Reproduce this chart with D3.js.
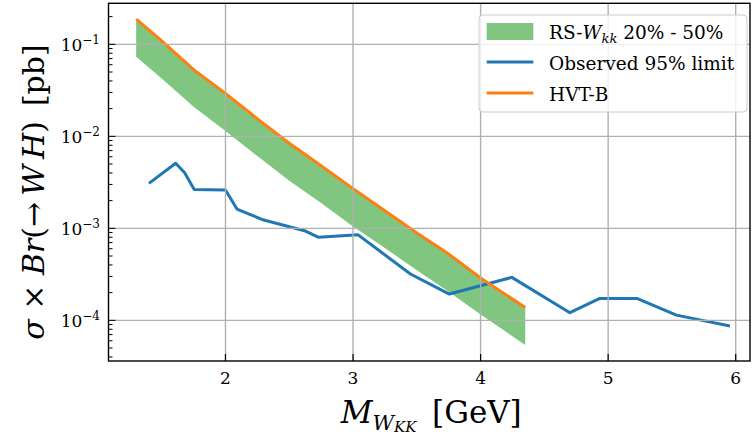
<!DOCTYPE html>
<html><head><meta charset="utf-8">
<script src="https://cdn.jsdelivr.net/npm/d3@7"></script>
<style>body{margin:0;background:#fff} svg{display:block} text{font-family:"DejaVu Serif",serif;fill:#000}</style>
</head><body><svg id="c" width="752" height="437"></svg>
<script>
// ---- data ----
const massBand = [1.3,1.5,1.75,2.0,2.25,2.5,2.75,3.0,3.25,3.5,3.75,4.0,4.35];
const bandHigh = [0.188,0.109,0.053,0.0293,0.0155,0.0084,0.00478,0.0027,0.00155,0.00089,0.000525,0.000288,0.000138];
const bandLow  = [0.0735,0.0425,0.021,0.0114,0.0061,0.0033,0.00188,0.00105,0.00061,0.00035,0.000205,0.000116,0.000054];
const hvtB     = [0.188,0.109,0.053,0.0293,0.0155,0.0084,0.00478,0.0027,0.00155,0.00089,0.000525,0.000288,0.000138];
const massObs  = [1.4,1.61,1.68,1.755,2.0,2.09,2.3,2.62,2.73,3.04,3.45,3.755,4.245,4.7,4.935,5.225,5.535,5.955];
const observed = [0.00308,0.00509,0.00402,0.00265,0.00261,0.00162,0.00123,0.000942,0.000798,0.00085,0.000319,0.000193,0.000293,0.000121,0.000173,0.000173,0.000114,0.0000867];
const xTicks = [2,3,4,5,6];
const yTickExps = [-4,-3,-2,-1];
const legendLabels = ["RS-W_kk 20% - 50%","Observed 95% limit","HVT-B"];

// ---- layout ----
const L=108.5, R=750, T=3.3, B=361;
const svg=d3.select("#c");
const x=d3.scaleLinear().domain([1.083,6.112]).range([L,R]);
const y=d3.scaleLog().domain([Math.pow(10,-4.442),Math.pow(10,-0.554)]).range([B,T]);
const green="#2ca02c", blue="#1f77b4", orange="#ff7f0e";

const defs=svg.append("defs");
defs.append("clipPath").attr("id","clip").append("rect").attr("x",L).attr("y",T).attr("width",R-L).attr("height",B-T);
const plot=svg.append("g").attr("clip-path","url(#clip)");

// band
const bandData=massBand.map((m,i)=>({m,lo:bandLow[i],hi:bandHigh[i]}));
plot.append("path").datum(bandData)
  .attr("d",d3.area().x(d=>x(d.m)).y0(d=>y(d.lo)).y1(d=>y(d.hi)))
  .attr("fill",green).attr("fill-opacity",0.6);

// grid (drawn above the band, below lines, like matplotlib)
const grid=svg.append("g");
xTicks.forEach(t=>grid.append("line").attr("x1",x(t)).attr("x2",x(t)).attr("y1",T).attr("y2",B)
  .attr("stroke","#b0b0b0").attr("stroke-width",1.4));
yTickExps.forEach(e=>grid.append("line").attr("x1",L).attr("x2",R).attr("y1",y(Math.pow(10,e))).attr("y2",y(Math.pow(10,e)))
  .attr("stroke","#b0b0b0").attr("stroke-width",1.4));

// lines
const line=d3.line().x(d=>x(d[0])).y(d=>y(d[1]));
plot.append("path").datum(massObs.map((m,i)=>[m,observed[i]])).attr("d",line)
  .attr("fill","none").attr("stroke",blue).attr("stroke-width",3).attr("stroke-linejoin","round");
plot.append("path").datum(massBand.map((m,i)=>[m,hvtB[i]])).attr("d",line)
  .attr("fill","none").attr("stroke",orange).attr("stroke-width",3).attr("stroke-linejoin","round");

// ticks
const ax=svg.append("g");
xTicks.forEach(t=>{
  ax.append("line").attr("x1",x(t)).attr("x2",x(t)).attr("y1",B).attr("y2",B-7).attr("stroke","#000").attr("stroke-width",1.2);
  ax.append("text").attr("x",x(t)).attr("y",384).attr("text-anchor","middle").attr("font-size",17).text(t);
});
const [d0,d1]=y.domain();
for(let e=-6;e<=0;e++){
  for(let k=1;k<=9;k++){
    const v=k*Math.pow(10,e);
    if(v<d0||v>d1) continue;
    const len=k===1?7:4;
    ax.append("line").attr("x1",L).attr("x2",L+len).attr("y1",y(v)).attr("y2",y(v)).attr("stroke","#000").attr("stroke-width",1);
  }
}
yTickExps.forEach(e=>{
  const t=ax.append("text").attr("x",100).attr("y",y(Math.pow(10,e))+6.5).attr("text-anchor","end").attr("font-size",17);
  t.append("tspan").text("10");
  t.append("tspan").attr("dy",-7).attr("font-size",12).text("\u2212"+Math.abs(e));
});

// frame
svg.append("rect").attr("x",L).attr("y",T).attr("width",R-L).attr("height",B-T)
  .attr("fill","none").attr("stroke","#000").attr("stroke-width",1.4);

// axis labels
const xl=svg.append("text").attr("x",(L+R)/2+2).attr("y",423).attr("text-anchor","middle").attr("font-size",31);
xl.append("tspan").attr("font-style","italic").text("M");
xl.append("tspan").attr("font-style","italic").attr("font-size",21).attr("dy",7).text("W");
xl.append("tspan").attr("font-style","italic").attr("font-size",15).attr("dy",2).text("KK");
xl.append("tspan").attr("dy",-9).text("\u2002[GeV]");

const yl=svg.append("text").attr("transform","translate(44,192) rotate(-90)").attr("text-anchor","middle").attr("font-size",30);
yl.append("tspan").attr("font-style","italic").text("σ");
yl.append("tspan").text(" × ");
yl.append("tspan").attr("font-style","italic").text("Br");
yl.append("tspan").text("(→\u2009");
yl.append("tspan").attr("font-style","italic").text("W\u2009H");
yl.append("tspan").text(")\u2002[pb]");

// legend
const lg=svg.append("g");
lg.append("rect").attr("x",479).attr("y",15).attr("width",268).attr("height",97).attr("rx",4)
  .attr("fill","#fff").attr("fill-opacity",0.8).attr("stroke","#cccccc").attr("stroke-width",1);
lg.append("rect").attr("x",486.7).attr("y",23).attr("width",46.6).attr("height",17).attr("fill",green).attr("fill-opacity",0.6);
lg.append("line").attr("x1",486.7).attr("x2",533.3).attr("y1",62).attr("y2",62).attr("stroke",blue).attr("stroke-width",3);
lg.append("line").attr("x1",486.7).attr("x2",533.3).attr("y1",93).attr("y2",93).attr("stroke",orange).attr("stroke-width",3);
const t0=lg.append("text").attr("x",549).attr("y",38.5).attr("font-size",18.5);
const parts=legendLabels[0].split("W_kk");
t0.append("tspan").text(parts[0]);
t0.append("tspan").attr("font-style","italic").text("W");
t0.append("tspan").attr("font-style","italic").attr("font-size",13).attr("dy",4).text("kk");
t0.append("tspan").attr("dy",-4).text(parts[1]);
lg.append("text").attr("x",549).attr("y",70).attr("font-size",18.5).text(legendLabels[1]);
lg.append("text").attr("x",549).attr("y",100.5).attr("font-size",18.5).text(legendLabels[2]);
</script></body></html>
